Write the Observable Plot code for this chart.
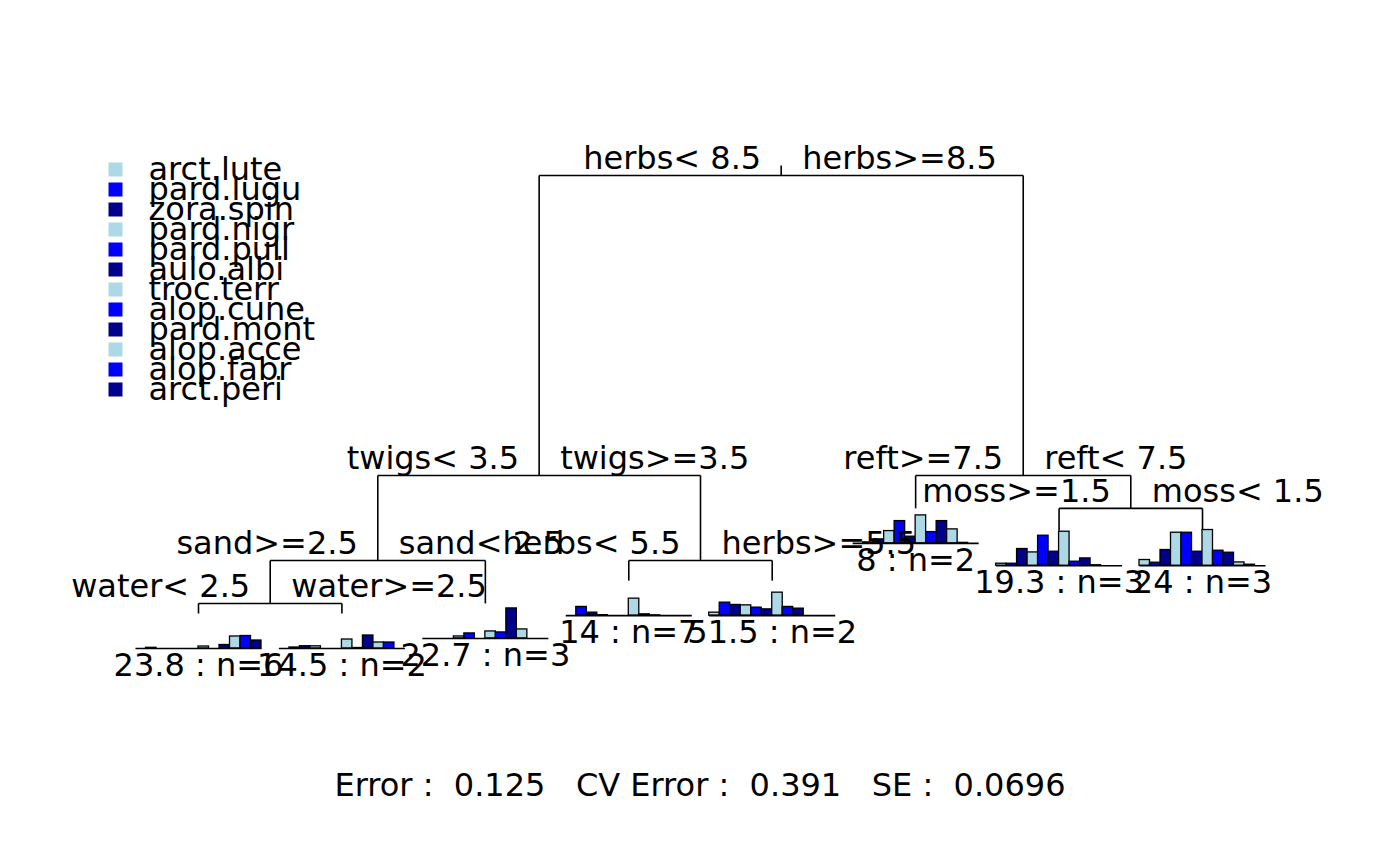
<!DOCTYPE html>
<html>
<head>
<meta charset="utf-8">
<script src="https://cdn.jsdelivr.net/npm/d3@7"></script>
<script src="https://cdn.jsdelivr.net/npm/@observablehq/plot@0.6"></script>
<style>
  body { margin: 0; background: white; }
  #chart { position: relative; width: 1400px; height: 866px; font-family: "DejaVu Sans", sans-serif; }
  #chart svg { position: absolute; left: 0; top: 0; }
  #caption { position: absolute; left: 0; top: 766px; width: 1400px; text-align: center; font-size: 32px; white-space: pre; }
</style>
</head>
<body>
<div id="chart"></div>
<script>
// species shown in each leaf histogram (legend order)
const species = ["arct.lute", "pard.lugu", "zora.spin", "pard.nigr", "pard.pull", "aulo.albi",
                 "troc.terr", "alop.cune", "pard.mont", "alop.acce", "alop.fabr", "arct.peri"];
const speciesColors = ["lightblue", "blue", "darkblue"];

// splits of the tree
const splitIds = ["root", "twigs", "reft", "sand", "herbs2", "water", "moss"];
const splitLeft = ["twigs", "sand", "L6", "water", "L4", "L1", "L7"];
const splitRight = ["reft", "herbs2", "moss", "L3", "L5", "L2", "L8"];
const splitLabelLeft = ["herbs< 8.5", "twigs< 3.5", "reft>=7.5", "sand>=2.5", "herbs< 5.5", "water< 2.5", "moss>=1.5"];
const splitLabelRight = ["herbs>=8.5", "twigs>=3.5", "reft< 7.5", "sand< 2.5", "herbs>=5.5", "water>=2.5", "moss< 1.5"];
const splitHeight = [1, 0.315, 0.315, 0.121, 0.121, 0.023, 0.240];

// leaves, left to right
const leafIds = ["L1", "L2", "L3", "L4", "L5", "L6", "L7", "L8"];
const leafHeight = [0, 0, 0.023, 0.075, 0.075, 0.240, 0.189, 0.189];
const leafLabels = ["23.8 : n=6", "14.5 : n=2", "22.7 : n=3", "14 : n=7", "51.5 : n=2", "8 : n=2", "19.3 : n=3", "24 : n=3"];

// mean abundance per species in each leaf
const leaf1 = [0, 0.7, 0, 0, 0, 0, 2, 0, 3.5, 12, 12.5, 8];
const leaf2 = [0, 1, 2.3, 2.2, 0, 0, 9, 0.5, 13, 6, 6, 0];
const leaf3 = [0, 0, 0, 2, 5, 0, 7, 6, 30, 9, 0, 0];
const leaf4 = [0, 8.7, 3, 0.5, 0, 0, 17, 1.3, 0.3, 0, 0, 0];
const leaf5 = [3, 13, 10.7, 10.3, 8, 6.3, 23, 8.7, 7, 0, 0, 0];
const leaf6 = [0, 1, 4, 12.3, 22.3, 6.7, 28, 11.3, 22.3, 14, 0.5, 0];
const leaf7 = [2, 2, 16.7, 13.3, 30, 14, 34, 4, 7.3, 0.5, 0, 0];
const leaf8 = [5.7, 3, 15.7, 33, 33, 14, 35.7, 15, 13, 3.3, 1, 0];
const leafAbund = [leaf1, leaf2, leaf3, leaf4, leaf5, leaf6, leaf7, leaf8];

const caption = "Error :  0.125   CV Error :  0.391   SE :  0.0696";

// layout
const fontSize = 32;
const pxPerUnit = 438;           // y scale: 1 unit = 438px
const histWidth = 0.8785;        // in leaf spacings
const histDrop = 35 / pxPerUnit; // histogram baseline below leaf node
const rootStub = 10 / pxPerUnit;

// node positions: leaves at 1..n, splits at midpoint of children
const nodeX = {}, nodeY = {};
leafIds.forEach((id, i) => { nodeX[id] = i + 1; nodeY[id] = leafHeight[i]; });
splitIds.forEach((id, k) => { nodeY[id] = splitHeight[k]; });
function getX(id) {
  if (id in nodeX) return nodeX[id];
  const k = splitIds.indexOf(id);
  return nodeX[id] = (getX(splitLeft[k]) + getX(splitRight[k])) / 2;
}
splitIds.forEach(getX);

const segments = [];
splitIds.forEach((id, k) => {
  const x = nodeX[id], y = nodeY[id];
  const l = splitLeft[k], r = splitRight[k];
  segments.push({x1: nodeX[l], y1: y, x2: nodeX[r], y2: y});
  segments.push({x1: nodeX[l], y1: y, x2: nodeX[l], y2: nodeY[l]});
  segments.push({x1: nodeX[r], y1: y, x2: nodeX[r], y2: nodeY[r]});
  if (id === "root") segments.push({x1: x, y1: y, x2: x, y2: y + rootStub});
});

const splits = splitIds.map((id, k) => ({x: nodeX[id], y: nodeY[id], left: splitLabelLeft[k], right: splitLabelRight[k]}));

const bw = histWidth / species.length;
const leaves = leafIds.map((id, j) => ({
  x: nodeX[id], base: nodeY[id] - histDrop, label: leafLabels[j]
}));
const bars = [];
leaves.forEach((lf, j) => {
  leafAbund[j].forEach((v, i) => {
    const x1 = lf.x - histWidth / 2 + i * bw;
    bars.push({x1, x2: x1 + bw, y1: lf.base, y2: lf.base + v / pxPerUnit, fill: speciesColors[i % 3]});
  });
});

const tree = Plot.plot({
  width: 1400,
  height: 866,
  margin: 0,
  x: {domain: [-0.3805, 9.3805], range: [0, 1400], axis: null},
  y: {domain: [0, 1], range: [613, 175], axis: null},
  color: {type: "identity"},
  style: {fontFamily: "DejaVu Sans", background: "transparent", overflow: "visible"},
  marks: [
    Plot.link(segments, {x1: "x1", y1: "y1", x2: "x2", y2: "y2", stroke: "black", strokeWidth: 1.6}),
    Plot.rect(bars, {x1: "x1", x2: "x2", y1: "y1", y2: "y2", fill: "fill", stroke: "black", strokeWidth: 1.3}),
    Plot.link(leaves, {x1: d => d.x - histWidth / 2, x2: d => d.x + histWidth / 2, y1: "base", y2: "base", stroke: "black", strokeWidth: 1.6}),
    Plot.text(leaves, {x: "x", y: "base", text: "label", dy: 17, fontSize, fill: "black"}),
    Plot.text(splits, {x: "x", y: "y", text: "left", textAnchor: "end", dx: -20, dy: -17, fontSize, fill: "black"}),
    Plot.text(splits, {x: "x", y: "y", text: "right", textAnchor: "start", dx: 21, dy: -17, fontSize, fill: "black"})
  ]
});

const legend = Plot.plot({
  width: 420,
  height: 430,
  marginLeft: 115,
  y: {type: "point", domain: species, range: [166, 391.5], padding: 0, axis: null},
  style: {fontFamily: "DejaVu Sans", background: "transparent", overflow: "visible"},
  marks: [
    Plot.dot(species, {y: d => d, frameAnchor: "left", symbol: "square", r: 7.9, fill: (d, i) => speciesColors[i % 3], stroke: "none"}),
    Plot.text(species, {y: d => d, frameAnchor: "left", text: d => d, textAnchor: "start", dx: 33, fontSize, fill: "black"})
  ]
});

const chart = document.getElementById("chart");
chart.append(tree);
chart.append(legend);
const cap = document.createElement("div");
cap.id = "caption";
cap.textContent = caption;
chart.append(cap);
</script>
</body>
</html>
